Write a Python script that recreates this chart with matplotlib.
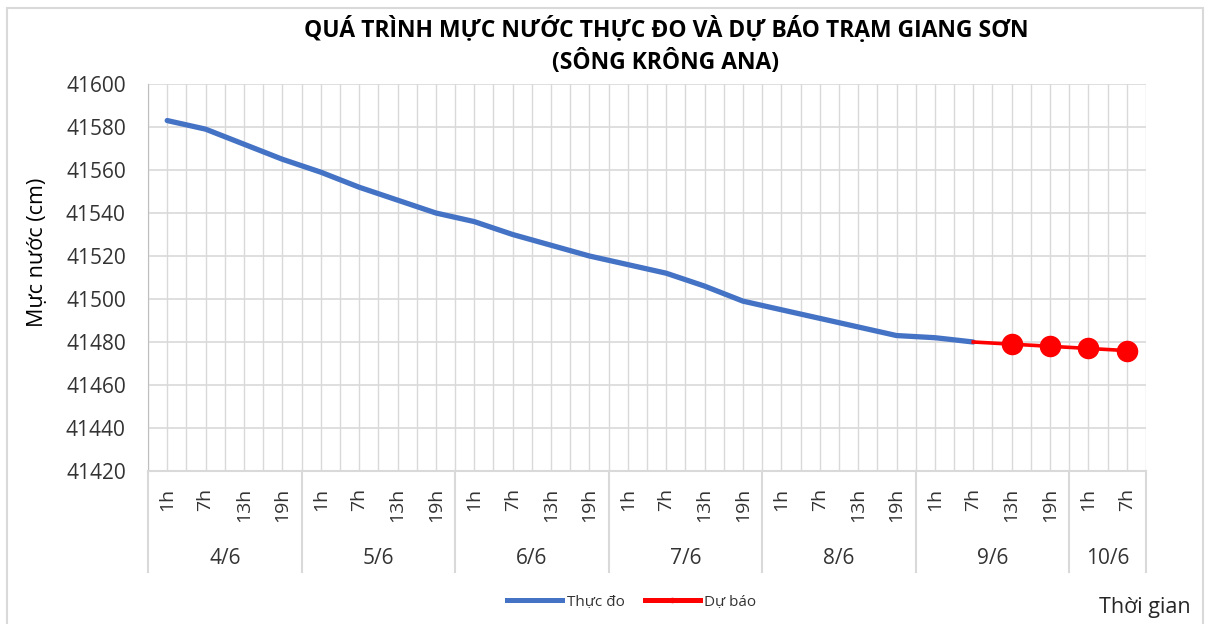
import matplotlib.pyplot as plt
from matplotlib.lines import Line2D
from matplotlib.patches import Rectangle
import matplotlib.transforms as mtransforms
import numpy as np

plt.rcParams['font.family'] = ['Open Sans', 'DejaVu Sans']

# data
ngay = ['4/6', '5/6', '6/6', '7/6', '8/6', '9/6', '10/6']
gio_ngay = [['1h', '7h', '13h', '19h']] * 6 + [['1h', '7h']]
thuc_do = [41583, 41579, 41572, 41565, 41559, 41552, 41546, 41540,
           41536, 41530, 41525, 41520, 41516, 41512, 41506, 41499,
           41495, 41491, 41487, 41483, 41482, 41480]
du_bao = [41480, 41479, 41478, 41477, 41476]

gio = []
for g in gio_ngay:
    gio += g
n = len(gio)
x = np.arange(n)
x_tdo = x[:len(thuc_do)]
x_db = x[len(thuc_do)-1:len(thuc_do)-1+len(du_bao)]

fig = plt.figure(figsize=(12.11, 6.24), dpi=100)
ax = fig.add_axes([148/1211, 1-471/624, (1146-148)/1211, (471-84)/624])

# outer frame
fig.patches.append(Rectangle((7/1211, -0.05), (1203-7)/1211, 1.05-8/624,
                             transform=fig.transFigure, fill=False,
                             edgecolor='#d9d9d9', linewidth=1.5))

blue = '#4472C4'
red = '#FF0000'
ax.plot(x_tdo, thuc_do, color=blue, lw=3.8, solid_capstyle='round',
        solid_joinstyle='round', zorder=3)
ax.plot(x_db, du_bao, color=red, lw=2.6, zorder=4)
ax.plot(x_db[1:], du_bao[1:], 'o', color=red, ms=14.5, zorder=5)

ax.set_xlim(-0.5, n-0.5)
ax.set_ylim(41420, 41600)
ax.set_yticks(np.arange(41420, 41601, 20))
ax.set_xticks(x)
ax.set_xticklabels(gio, rotation=90, fontsize=14)
ax.set_xticks(np.arange(-0.5, n, 1), minor=True)
ax.tick_params(axis='x', which='both', length=0, pad=12, colors='#333333')
ax.tick_params(axis='y', length=0, labelsize=15, pad=16, colors='#333333')
ax.grid(True, which='both', axis='x', color='#d9d9d9', lw=1)
ax.grid(True, axis='y', color='#d9d9d9', lw=1.2)
ax.set_axisbelow(True)
for s in ['top', 'right']:
    ax.spines[s].set_visible(False)
ax.spines['left'].set_color('#bfbfbf')
ax.spines['bottom'].set_color('#d9d9d9')
ax.spines['bottom'].set_linewidth(1.5)

# date groups under the axis
trans = mtransforms.blended_transform_factory(ax.transData, ax.transAxes)
start = 0
bounds = [-0.5]
for d, g in zip(ngay, gio_ngay):
    mid = start + (len(g)-1)/2
    ax.text(mid, -0.225, d, transform=trans, ha='center', va='center',
            fontsize=15, color='#333333')
    start += len(g)
    bounds.append(start-0.5)
for b in bounds:
    ax.plot([b, b], [0, -0.262], transform=trans, color='#d9d9d9',
            lw=1.5, clip_on=False)

fig.text(666/1211, 1-30/624, 'QUÁ TRÌNH MỰC NƯỚC THỰC ĐO VÀ DỰ BÁO TRẠM GIANG SƠN',
         ha='center', va='center', fontsize=16.5, fontweight='bold', color='black')
fig.text(666/1211, 1-62/624, '(SÔNG KRÔNG ANA)',
         ha='center', va='center', fontsize=16.5, fontweight='bold', color='black')
fig.text(38/1211, 1-252/624, 'Mực nước (cm)', rotation=90, ha='center',
         va='center', fontsize=15.5, color='black')
fig.text(1145/1211, 1-607/624, 'Thời gian', ha='center', va='center',
         fontsize=15.5, color='#262626')

handles = [Line2D([], [], color=blue, lw=3.6),
           Line2D([], [], color=red, lw=3.6, marker='o', ms=3)]
fig.legend(handles, ['Thực đo', 'Dự báo'], loc='center', ncol=2,
           bbox_to_anchor=(632/1211, 1-602/624), frameon=False, fontsize=11,
           handlelength=3.6, handletextpad=0.3, columnspacing=1.3,
           labelcolor='#333333')

fig.savefig('out.png', dpi=100)
